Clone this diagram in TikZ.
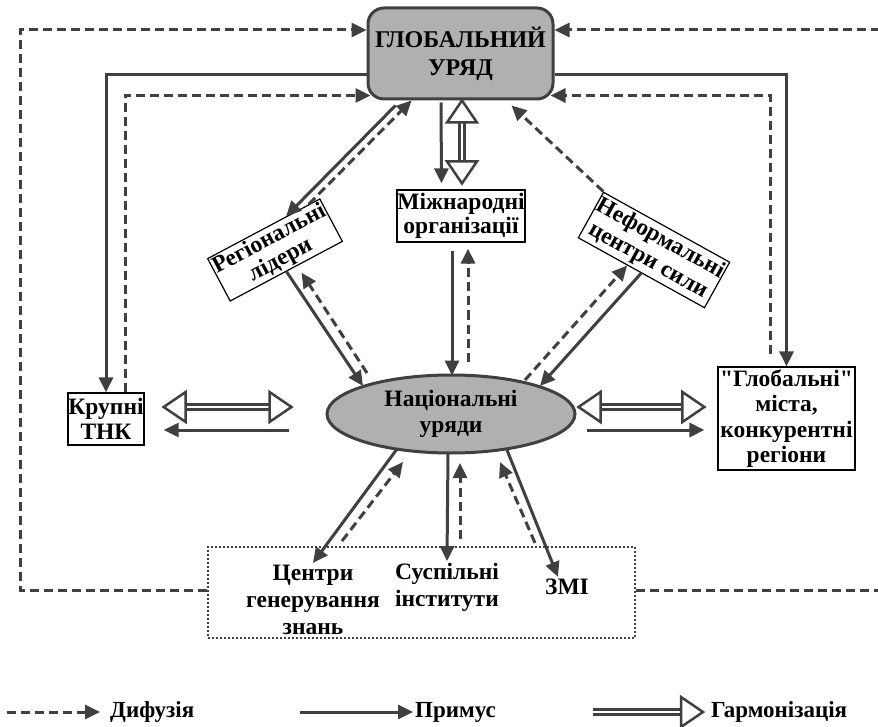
\documentclass[tikz,border=0pt]{standalone}
\usepackage{fontspec}
\setmainfont{Liberation Serif}[Ligatures=TeXOff]
\usetikzlibrary{arrows.meta,calc,shapes.geometric}
\definecolor{ln}{HTML}{404040}
\definecolor{fl}{HTML}{B0B0B0}
\newcommand{\hmtip}[2]{%
  \coordinate (hmB) at ($(#1)!22pt!(#2)$);
  \draw[harmhd] (#1) -- ($(hmB)!15pt!90:(#1)$) -- ($(hmB)!15pt!-90:(#1)$) -- cycle;}
\newcommand{\hmarrow}[2]{%
  \draw[harm, shorten <=21pt, shorten >=21pt] (#1) -- (#2);
  \hmtip{#1}{#2}\hmtip{#2}{#1}}
\newcommand{\fs}[1]{\fontsize{23.5}{#1}\selectfont\bfseries}
\begin{document}
\begin{tikzpicture}[x=1pt,y=-1pt,
  txt/.style={font=\fs{27}, align=center, inner sep=2pt},
  box/.style={txt, draw=black, line width=1.2pt},
  primus/.style={draw=ln, line width=3pt, -{Triangle[length=15pt,width=14pt]}},
  dif/.style={primus, dash pattern=on 9pt off 5pt},
  harm/.style={draw=ln, line width=2.5pt, double=white, double distance=2.5pt},
  harmhd/.style={draw=ln, line width=2.5pt, fill=white, line join=miter},
  legtxt/.style={font=\fontsize{23}{26}\selectfont\bfseries, inner sep=0pt, anchor=west}]
\useasboundingbox (0,0) rectangle (878,727);

% nodes
\node[txt, font=\fontsize{24}{28}\selectfont\bfseries, draw=ln, fill=fl, line width=3pt,
      rounded corners=16pt, minimum width=185pt, minimum height=91pt] (glob) at (460.5,53.5) {ГЛОБАЛЬНИЙ\\УРЯД};
\node[txt, font=\fs{26}, ellipse, draw=ln, fill=fl, line width=3pt, inner sep=0pt,
      minimum width=248pt, minimum height=78pt] (nat) at (451,414) {Національні\\уряди};
\node[box, font=\fs{25}, inner sep=0.5pt, minimum width=76pt, minimum height=52pt] (tnk) at (106,419) {Крупні\\ТНК};
\node[box, font=\fs{24}, inner sep=0.5pt, minimum width=128pt, minimum height=52pt] (mizh) at (461,216) {Міжнародні\\організації};
\node[box, font=\fs{25.5}, inner sep=0pt, minimum width=137pt, minimum height=103pt] (glmist) at (786.5,418.5) {"Глобальні"\\міста,\\конкурентні\\регіони};
\node[box, font=\fs{24}, rotate=28, inner sep=0.5pt, minimum width=127pt, minimum height=48pt] (reg) at (275,250) {Регіональні\\лідери};
\node[box, font=\fs{25}, rotate=-29, inner sep=0.5pt, minimum width=143pt, minimum height=52pt] (nef) at (654,250) {Неформальні\\центри сили};
\node[draw=ln, line width=2pt, dash pattern=on 2pt off 2pt, minimum width=427pt, minimum height=91pt] (soc) at (421.5,592.5) {};
\node[txt] (centr) at (313,600) {Центри\\генерування\\знань};
\node[txt] (susp) at (447,587.5) {Суспільні\\інститути};
\node[txt] (zmi) at (567,587) {ЗМІ};

% outer loops
\draw[dif] (soc.west |- 0,590) -| (20,30) -- (glob.west |- 0,30);
\draw[dif] (soc.east |- 0,590) -- (884,590) -- (884,30) -- (glob.east |- 0,30);

% left and right branches
\draw[primus] (glob.west |- 0,75) -| (tnk.north);
\draw[dif] (tnk.north -| 125,0) |- ($(glob.south west)+(4,-5)$);
\draw[primus] (glob.east |- 0,75) -| (glmist.north);
\draw[dif] ($(glmist.north)+(-16.5,-12)$) |- ($(glob.south east)+(-4,-5)$);

% regional leaders
\draw[primus] ($(glob.south west)+(29,5)$) -- ($(reg.north west)!0.7!(reg.north east)$);
\draw[dif] ($(reg.north west)!0.9!(reg.north east)$) -- ($(glob.south west)+(45,0)$);
\draw[primus] (reg.south) -- ($(nat.center)+(-88,-28)$);
\draw[dif] ($(nat.center)+(-84,-41)$) -- ($(reg.south)+(15,1)$);

% international organisations
\draw[primus] ($(glob.south)+(-19.5,2)$) -- ($(mizh.north)+(-19.5,-6)$);
\coordinate (h1a) at ($(glob.south)+(1.5,0)$);
\coordinate (h1b) at ($(mizh.north)+(1,-6)$);
\hmarrow{h1a}{h1b}
\draw[primus] ($(mizh.south)+(-9,8)$) -- ($(nat.north)+(1,2)$);
\draw[dif] ($(nat.north)+(17,-12)$) -- ($(mizh.south)+(7,6)$);

% informal centres
\draw[dif] (nef.north west) -- ($(glob.south east)+(-43,5)$);
\draw[primus] (nef.south) -- ($(nat.center)+(89,-28)$);
\draw[dif] ($(nat.center)+(74,-34)$) -- ($(nef.south west)!0.39!(nef.south east)$);

% TNK
\coordinate (h2a) at ($(tnk.east)+(19,-12)$);
\coordinate (h2b) at ($(nat.west)+(-34,-7)$);
\hmarrow{h2a}{h2b}
\draw[primus] ($(nat.west)+(-37,16)$) -- ($(tnk.east)+(19,11)$);

% global cities
\coordinate (h3a) at ($(nat.east)+(2,-7)$);
\coordinate (h3b) at ($(glmist.west)+(-13,-11.5)$);
\hmarrow{h3a}{h3b}
\draw[primus] ($(nat.east)+(10,16)$) -- ($(glmist.west)+(-13,11.5)$);

% bottom
\draw[primus] ($(nat.center)+(-54,35)$) -- (centr.north);
\draw[dif] ($(centr.north)+(29,-22)$) -- ($(nat.center)+(-48,48)$);
\draw[primus] ($(nat.center)+(-3,38)$) -- (susp.north);
\draw[dif] ($(susp.north)+(13,-22)$) -- ($(nat.center)+(9,49)$);
\draw[primus] ($(nat.center)+(56,36)$) -- ($(zmi.north)+(-9,0)$);
\draw[dif] ($(zmi.north)+(-32,-34)$) -- ($(nat.center)+(49,48)$);

% legend
\coordinate (l1a) at (7,712);
\coordinate (l1b) at (100,712);
\draw[dif] (l1a) -- (l1b);
\node[legtxt] (l1) at (110,712) {Дифузія};
\coordinate (l2a) at (300,712);
\coordinate (l2b) at (413,712);
\draw[primus] (l2a) -- (l2b);
\node[legtxt] (l2) at (415,712) {Примус};
\coordinate (l3a) at (593,712);
\coordinate (l3b) at (703,712);
\draw[harm, shorten >=21pt] (l3a) -- (l3b);
\hmtip{l3b}{l3a}
\node[legtxt] (l3) at (711,712) {Гармонізація};
\end{tikzpicture}
\end{document}
